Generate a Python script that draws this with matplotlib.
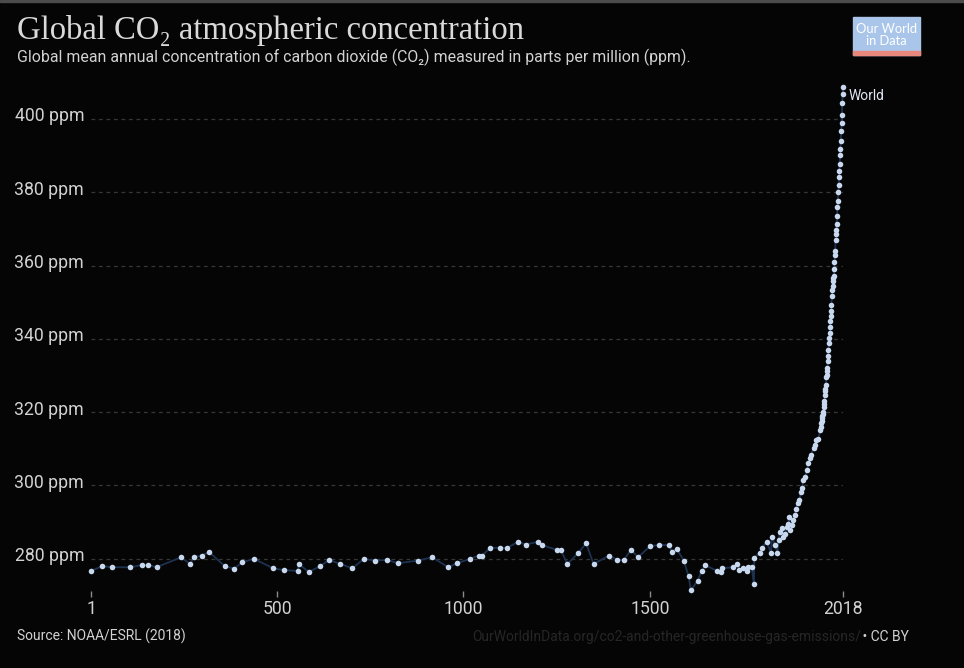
import numpy as np
import matplotlib
matplotlib.use("Agg")
import matplotlib.pyplot as plt
import matplotlib.transforms as mtransforms
from matplotlib.patches import Rectangle

# ice core record (Law Dome)
ice_years = [1, 31, 58, 106, 137, 155, 177, 242, 267, 277, 298, 318, 360, 385, 407, 438,
             490, 519, 555, 558, 585, 616, 639, 670, 702, 733, 762, 794, 824, 877, 916,
             959, 983, 1018, 1041, 1050, 1072, 1099, 1117, 1146, 1167, 1199, 1211, 1252,
             1261, 1279, 1308, 1329, 1349, 1391, 1413, 1430, 1450, 1468, 1500, 1525, 1551,
             1560, 1572, 1591, 1604, 1610, 1628, 1639, 1649, 1681, 1691, 1693, 1723, 1735,
             1740, 1750, 1761, 1764, 1773, 1779, 1780, 1795, 1800, 1813, 1825, 1827, 1836,
             1842, 1845, 1849, 1855, 1858, 1863, 1867, 1871, 1873, 1876, 1880, 1885, 1889,
             1892, 1896, 1901, 1905, 1909, 1910, 1916, 1921, 1925, 1930, 1932, 1939, 1944,
             1946, 1952, 1957]
ice_ppm = [276.7, 278.0, 277.7, 277.7, 278.3, 278.3, 277.7, 280.4, 278.6, 280.4, 280.9,
           281.8, 278.0, 277.3, 279.1, 280.0, 277.4, 276.9, 276.7, 278.6, 276.4, 278.0,
           279.7, 278.6, 277.4, 280.0, 279.5, 279.7, 278.8, 279.5, 280.4, 277.7, 278.8,
           280.0, 280.9, 280.9, 283.0, 283.0, 283.0, 284.6, 283.9, 284.6, 283.7, 282.4,
           282.4, 278.6, 281.6, 284.2, 278.6, 280.9, 279.7, 279.7, 282.5, 280.4, 283.4,
           283.8, 283.7, 281.9, 282.7, 279.5, 275.2, 271.4, 274.0, 276.7, 278.2, 276.7,
           276.5, 277.4, 277.7, 278.6, 277.0, 277.4, 276.7, 277.7, 277.9, 273.1, 280.3,
           281.7, 283.0, 284.6, 281.7, 286.0, 283.7, 281.6, 285.1, 287.4, 288.3, 286.0,
           286.9, 288.7, 289.6, 291.4, 287.8, 289.2, 290.5, 291.9, 293.7, 295.1, 296.0,
           298.3, 299.2, 301.4, 302.2, 304.2, 306.0, 307.4, 308.3, 310.1, 311.0, 312.4,
           312.8, 315.1]

# direct measurements, annual means 1959-2018
mlo_years = list(range(1959, 2019))
mlo_ppm = [315.98, 316.91, 317.64, 318.45, 318.99, 319.62, 320.04, 321.37, 322.18, 323.05,
           324.62, 325.68, 326.32, 327.46, 329.68, 330.19, 331.13, 332.03, 333.84, 335.41,
           336.84, 338.76, 340.12, 341.48, 343.15, 344.85, 346.35, 347.61, 349.31, 351.69,
           353.20, 354.45, 355.70, 356.54, 357.21, 358.96, 360.97, 362.74, 363.88, 366.84,
           368.54, 369.71, 371.32, 373.45, 375.98, 377.70, 379.98, 382.09, 384.02, 385.83,
           387.64, 390.10, 391.85, 394.06, 396.74, 398.81, 401.01, 404.41, 406.76, 408.72]

years = np.array(ice_years + mlo_years)
ppm = np.array(ice_ppm + mlo_ppm)

y_ticks = [280, 300, 320, 340, 360, 380, 400]
x_ticks = [1, 500, 1000, 1500, 2018]

bg = "#050505"
txt = "#d2d2d2"

fig = plt.figure(figsize=(9.64, 6.68), dpi=100, facecolor=bg)
ax = fig.add_axes([91 / 964, 1 - 590.7 / 668, 752 / 964, 503.7 / 668], facecolor=bg)

ax.plot(years, ppm, color="#1d3150", lw=1.3, zorder=2, clip_on=False)
ax.plot(years, ppm, ls="none", marker="o", ms=4, mfc="#c8d9ef", mec="none",
        zorder=3, clip_on=False)

ax.set_xlim(1, 2018)
ax.set_ylim(271.3, 408.7)
ax.set_yticks(y_ticks)
ax.set_yticklabels([f"{v} ppm" for v in y_ticks])
ax.set_xticks(x_ticks)
ax.set_xticklabels([str(v) for v in x_ticks])
ax.tick_params(axis="y", length=0, pad=5, labelsize=12.7, labelcolor=txt)
ax.tick_params(axis="x", length=4, width=1, color="#8a8a8a", pad=3,
               labelsize=12.7, labelcolor=txt)
lift = mtransforms.ScaledTranslation(0, 4.5 / 100, fig.dpi_scale_trans)
for lbl in ax.get_yticklabels():
    lbl.set_transform(lbl.get_transform() + lift)
for lbl in ax.get_xticklabels() + ax.get_yticklabels():
    lbl.set_family("Roboto")
for s in ax.spines.values():
    s.set_visible(False)
ax.grid(axis="y", color="#363636", ls=(0, (3, 3)), lw=0.9, zorder=0)
ax.set_axisbelow(True)

ax.text(2018 + 14, mlo_ppm[-1] - 2.5, "World", color="#dfe7f3", fontsize=10,
        family="Roboto", va="center", ha="left")

# header
fig.text(17 / 964, 1 - 39 / 668, "Global CO₂ atmospheric concentration", color="#dadada",
         fontsize=23.5, family=["Liberation Serif", "DejaVu Serif"], va="baseline")
fig.text(17 / 964, 1 - 62 / 668,
         "Global mean annual concentration of carbon dioxide (CO₂) measured in parts per million (ppm).",
         color=txt, fontsize=11.4, family=["Roboto", "DejaVu Sans"], va="baseline")

# logo
fig.patches.append(Rectangle((853 / 964, 1 - 55 / 668), 67 / 964, 38 / 668,
                             transform=fig.transFigure, color="#a9c6ea", zorder=5))
fig.patches.append(Rectangle((853 / 964, 1 - 55 / 668), 67 / 964, 4 / 668,
                             transform=fig.transFigure, color="#e8877c", zorder=6))
fig.text(886.5 / 964, 1 - 35 / 668, "Our World\nin Data", color="white", fontsize=9.3,
         family="Lato", ha="center", va="center", linespacing=0.95, zorder=7)

# top border
fig.patches.append(Rectangle((0, 1 - 2 / 668), 1, 2 / 668, transform=fig.transFigure,
                             color="#4b4b4b", zorder=5))

# footer
fig.text(17 / 964, 1 - 641 / 668, "Source: NOAA/ESRL (2018)", color=txt, fontsize=10,
         family="Roboto", va="baseline")
fig.text(909 / 964, 1 - 641 / 668, " • CC BY", color=txt, fontsize=10,
         family="Roboto", va="baseline", ha="right")
fig.text(861 / 964, 1 - 641 / 668,
         "OurWorldInData.org/co2-and-other-greenhouse-gas-emissions/", color="#262626",
         fontsize=10, family="Roboto", va="baseline", ha="right")

fig.savefig("out.png", dpi=100, facecolor=bg)
